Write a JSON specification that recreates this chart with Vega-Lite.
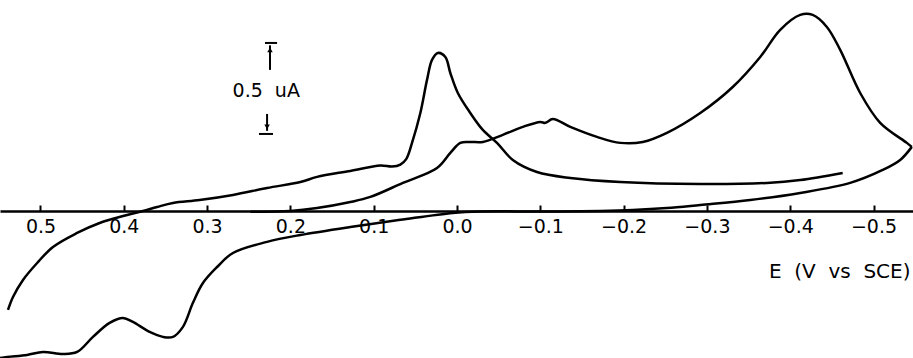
{
  "$schema": "https://vega.github.io/schema/vega-lite/v6.json",
  "width": 913,
  "height": 358,
  "autosize": {"type": "none"},
  "padding": 0,
  "background": "white",
  "config": {"view": {"stroke": null}, "font": "DejaVu Sans"},
  "datasets": {
    "cv": [
      {"s":"a","o":1,"E":0.539,"I":-0.544},
      {"s":"a","o":2,"E":0.533,"I":-0.473},
      {"s":"a","o":3,"E":0.521,"I":-0.379},
      {"s":"a","o":4,"E":0.504,"I":-0.286},
      {"s":"a","o":5,"E":0.485,"I":-0.198},
      {"s":"a","o":6,"E":0.456,"I":-0.121},
      {"s":"a","o":7,"E":0.429,"I":-0.066},
      {"s":"a","o":8,"E":0.396,"I":-0.022},
      {"s":"a","o":9,"E":0.377,"I":0.0},
      {"s":"a","o":10,"E":0.360,"I":0.022},
      {"s":"a","o":11,"E":0.341,"I":0.044},
      {"s":"a","o":12,"E":0.309,"I":0.060},
      {"s":"a","o":13,"E":0.269,"I":0.088},
      {"s":"a","o":14,"E":0.228,"I":0.126},
      {"s":"a","o":15,"E":0.188,"I":0.159},
      {"s":"a","o":16,"E":0.168,"I":0.187},
      {"s":"a","o":17,"E":0.128,"I":0.220},
      {"s":"a","o":18,"E":0.092,"I":0.250},
      {"s":"a","o":19,"E":0.078,"I":0.244},
      {"s":"a","o":20,"E":0.068,"I":0.255},
      {"s":"a","o":21,"E":0.061,"I":0.285},
      {"s":"a","o":22,"E":0.054,"I":0.374},
      {"s":"a","o":23,"E":0.044,"I":0.538},
      {"s":"a","o":24,"E":0.036,"I":0.720},
      {"s":"a","o":25,"E":0.030,"I":0.830},
      {"s":"a","o":26,"E":0.023,"I":0.868},
      {"s":"a","o":27,"E":0.014,"I":0.846},
      {"s":"a","o":28,"E":0.008,"I":0.758},
      {"s":"a","o":29,"E":-0.001,"I":0.648},
      {"s":"a","o":30,"E":-0.016,"I":0.538},
      {"s":"a","o":31,"E":-0.031,"I":0.445},
      {"s":"a","o":32,"E":-0.048,"I":0.374},
      {"s":"a","o":33,"E":-0.067,"I":0.280},
      {"s":"a","o":34,"E":-0.096,"I":0.214},
      {"s":"a","o":35,"E":-0.136,"I":0.181},
      {"s":"a","o":36,"E":-0.196,"I":0.159},
      {"s":"a","o":37,"E":-0.292,"I":0.148},
      {"s":"a","o":38,"E":-0.372,"I":0.154},
      {"s":"a","o":39,"E":-0.412,"I":0.170},
      {"s":"a","o":40,"E":-0.463,"I":0.209},
      {"s":"b","o":1,"E":0.248,"I":-0.005},
      {"s":"b","o":2,"E":0.200,"I":0.0},
      {"s":"b","o":3,"E":0.168,"I":0.016},
      {"s":"b","o":4,"E":0.128,"I":0.049},
      {"s":"b","o":5,"E":0.104,"I":0.077},
      {"s":"b","o":6,"E":0.065,"I":0.154},
      {"s":"b","o":7,"E":0.024,"I":0.236},
      {"s":"b","o":8,"E":0.008,"I":0.319},
      {"s":"b","o":9,"E":-0.004,"I":0.374},
      {"s":"b","o":10,"E":-0.016,"I":0.379},
      {"s":"b","o":11,"E":-0.031,"I":0.379},
      {"s":"b","o":12,"E":-0.055,"I":0.418},
      {"s":"b","o":13,"E":-0.079,"I":0.462},
      {"s":"b","o":14,"E":-0.100,"I":0.489},
      {"s":"b","o":15,"E":-0.106,"I":0.484},
      {"s":"b","o":16,"E":-0.115,"I":0.505},
      {"s":"b","o":17,"E":-0.136,"I":0.462},
      {"s":"b","o":18,"E":-0.168,"I":0.407},
      {"s":"b","o":19,"E":-0.196,"I":0.374},
      {"s":"b","o":20,"E":-0.223,"I":0.379},
      {"s":"b","o":21,"E":-0.252,"I":0.429},
      {"s":"b","o":22,"E":-0.292,"I":0.538},
      {"s":"b","o":23,"E":-0.331,"I":0.681},
      {"s":"b","o":24,"E":-0.364,"I":0.846},
      {"s":"b","o":25,"E":-0.388,"I":0.995},
      {"s":"b","o":26,"E":-0.412,"I":1.077},
      {"s":"b","o":27,"E":-0.427,"I":1.077},
      {"s":"b","o":28,"E":-0.444,"I":1.011},
      {"s":"b","o":29,"E":-0.460,"I":0.885},
      {"s":"b","o":30,"E":-0.484,"I":0.648},
      {"s":"b","o":31,"E":-0.508,"I":0.484},
      {"s":"b","o":32,"E":-0.540,"I":0.374},
      {"s":"b","o":33,"E":-0.546,"I":0.352},
      {"s":"c","o":1,"E":-0.546,"I":0.352},
      {"s":"c","o":2,"E":-0.532,"I":0.280},
      {"s":"c","o":3,"E":-0.511,"I":0.225},
      {"s":"c","o":4,"E":-0.472,"I":0.154},
      {"s":"c","o":5,"E":-0.412,"I":0.099},
      {"s":"c","o":6,"E":-0.352,"I":0.060},
      {"s":"c","o":7,"E":-0.292,"I":0.033},
      {"s":"c","o":8,"E":-0.252,"I":0.016},
      {"s":"c","o":9,"E":-0.211,"I":0.005},
      {"s":"c","o":10,"E":-0.172,"I":0.0},
      {"s":"c","o":11,"E":-0.100,"I":-0.003},
      {"s":"c","o":12,"E":-0.028,"I":-0.003},
      {"s":"c","o":13,"E":0.005,"I":-0.011},
      {"s":"c","o":14,"E":0.068,"I":-0.049},
      {"s":"c","o":15,"E":0.128,"I":-0.088},
      {"s":"c","o":16,"E":0.188,"I":-0.132},
      {"s":"c","o":17,"E":0.228,"I":-0.170},
      {"s":"c","o":18,"E":0.269,"I":-0.231},
      {"s":"c","o":19,"E":0.288,"I":-0.308},
      {"s":"c","o":20,"E":0.305,"I":-0.396},
      {"s":"c","o":21,"E":0.317,"I":-0.505},
      {"s":"c","o":22,"E":0.329,"I":-0.637},
      {"s":"c","o":23,"E":0.341,"I":-0.692},
      {"s":"c","o":24,"E":0.353,"I":-0.692},
      {"s":"c","o":25,"E":0.369,"I":-0.665},
      {"s":"c","o":26,"E":0.389,"I":-0.610},
      {"s":"c","o":27,"E":0.401,"I":-0.588},
      {"s":"c","o":28,"E":0.417,"I":-0.615},
      {"s":"c","o":29,"E":0.437,"I":-0.692},
      {"s":"c","o":30,"E":0.456,"I":-0.775},
      {"s":"c","o":31,"E":0.473,"I":-0.786},
      {"s":"c","o":32,"E":0.497,"I":-0.775},
      {"s":"c","o":33,"E":0.516,"I":-0.791},
      {"s":"c","o":34,"E":0.540,"I":-0.802},
      {"s":"c","o":35,"E":0.549,"I":-0.808}
    ],
    "bar": [
      {"E":0.2305,"E2":0.216,"I":0.923,"I2":0.923},
      {"E":0.2245,"E2":0.2245,"I":0.910,"I2":0.775},
      {"E":0.228,"E2":0.228,"I":0.533,"I2":0.440},
      {"E":0.2377,"E2":0.2209,"I":0.423,"I2":0.423}
    ],
    "arrow": [
      {"E":0.2245,"I":0.885,"shape":"triangle-up"},
      {"E":0.228,"I":0.462,"shape":"triangle-down"}
    ],
    "lbl": [
      {"E":0.229,"I":0.659,"t":"0.5\u00a0\u00a0uA"}
    ]
  },
  "layer": [
    {
      "data": {"name": "cv"},
      "mark": {"type": "line", "color": "black", "strokeWidth": 2.5, "interpolate": "catmull-rom"},
      "encoding": {
        "x": {"field": "E", "type": "quantitative",
              "scale": {"domain": [-0.5474, 0.5486], "reverse": true, "nice": false, "zero": false},
              "axis": {
                "values": [0.5, 0.4, 0.3, 0.2, 0.1, 0.0, -0.1, -0.2, -0.3, -0.4, -0.5],
                "format": ".1f",
                "offset": -147,
                "grid": false,
                "domainColor": "black", "domainWidth": 2.5,
                "tickColor": "black", "tickWidth": 2, "tickSize": -6,
                "labelFont": "DejaVu Sans", "labelFontSize": 19, "labelColor": "black",
                "labelPadding": 12,
                "title": "E\u00a0\u00a0(V\u00a0\u00a0vs\u00a0\u00a0SCE)",
                "titleFont": "DejaVu Sans", "titleFontSize": 20, "titleFontWeight": "normal",
                "titleColor": "black",
                "titleX": 910, "titleY": 60, "titleAlign": "right", "titleBaseline": "middle", "titleAngle": 0
              }},
        "y": {"field": "I", "type": "quantitative",
              "scale": {"domain": [-0.808, 1.159], "nice": false, "zero": false}, "axis": null},
        "detail": {"field": "s"},
        "order": {"field": "o", "type": "quantitative"}
      }
    },
    {
      "data": {"name": "bar"},
      "mark": {"type": "rule", "color": "black", "strokeWidth": 2},
      "encoding": {
        "x": {"field": "E", "type": "quantitative", "scale": {"domain": [-0.5474, 0.5486], "reverse": true, "nice": false, "zero": false}},
        "x2": {"field": "E2"},
        "y": {"field": "I", "type": "quantitative", "scale": {"domain": [-0.808, 1.159], "nice": false, "zero": false}},
        "y2": {"field": "I2"}
      }
    },
    {
      "data": {"name": "arrow"},
      "mark": {"type": "point", "filled": true, "color": "black", "size": 30, "opacity": 1},
      "encoding": {
        "x": {"field": "E", "type": "quantitative", "scale": {"domain": [-0.5474, 0.5486], "reverse": true, "nice": false, "zero": false}},
        "y": {"field": "I", "type": "quantitative", "scale": {"domain": [-0.808, 1.159], "nice": false, "zero": false}},
        "shape": {"field": "shape", "type": "nominal", "scale": {"domain": ["triangle-up", "triangle-down"], "range": ["triangle-up", "triangle-down"]}, "legend": null}
      }
    },
    {
      "data": {"name": "lbl"},
      "mark": {"type": "text", "font": "DejaVu Sans", "fontSize": 19, "color": "black", "align": "center", "baseline": "middle"},
      "encoding": {
        "x": {"field": "E", "type": "quantitative", "scale": {"domain": [-0.5474, 0.5486], "reverse": true, "nice": false, "zero": false}},
        "y": {"field": "I", "type": "quantitative", "scale": {"domain": [-0.808, 1.159], "nice": false, "zero": false}},
        "text": {"field": "t"}
      }
    }
  ]
}
